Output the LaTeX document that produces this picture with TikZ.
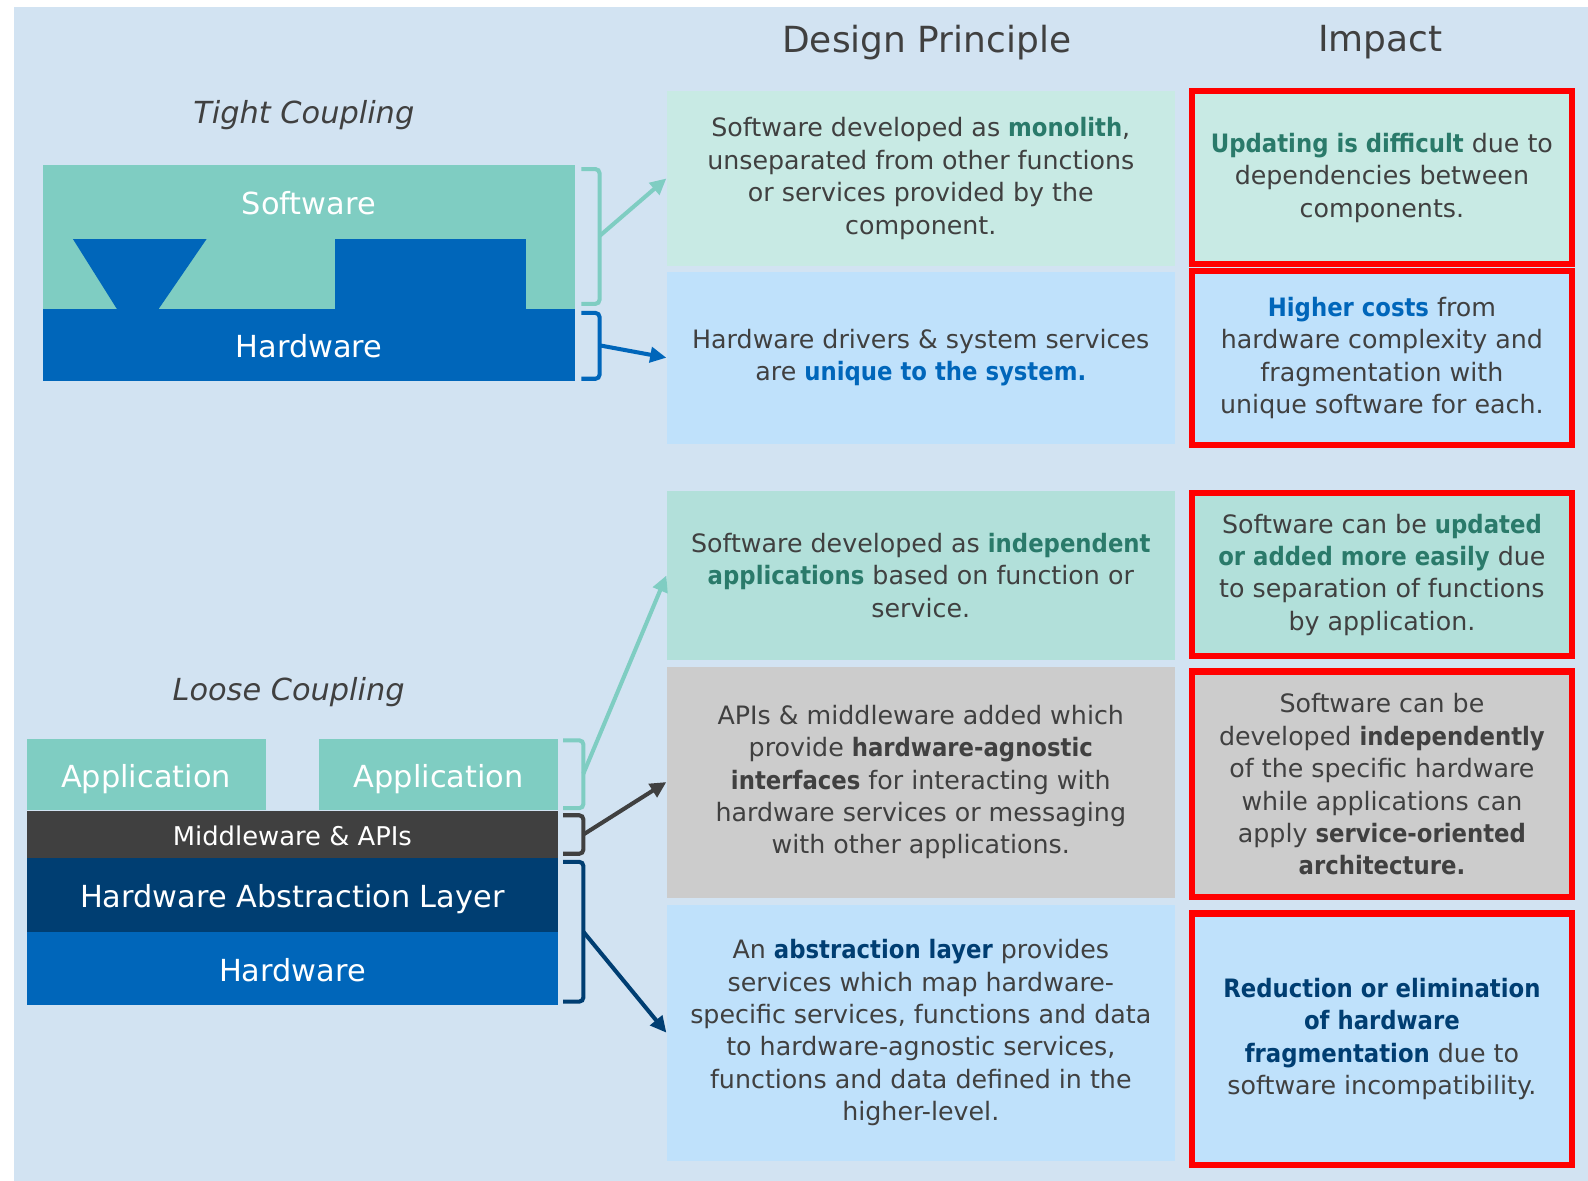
\documentclass[tikz,border=0pt]{standalone}
\usepackage{fontspec}
\setmainfont{DejaVu Sans}[BoldFeatures={FakeStretch=0.9}]
\usetikzlibrary{calc,arrows.meta}

\definecolor{bgblue}{HTML}{D2E3F2}
\definecolor{swteal}{HTML}{7FCDC2}
\definecolor{hwblue}{HTML}{0066BA}
\definecolor{halnavy}{HTML}{003E72}
\definecolor{mwgray}{HTML}{404040}
\definecolor{txtgray}{HTML}{404040}
\definecolor{dpteal}{HTML}{C8EAE4}
\definecolor{dptealb}{HTML}{B2E0DA}
\definecolor{dpblue}{HTML}{BFE1FB}
\definecolor{dpgray}{HTML}{CCCCCC}
\definecolor{hlteal}{HTML}{2A7A6A}
\definecolor{impred}{HTML}{FF0000}

\newcommand{\hlt}[1]{\textbf{\color{hlteal}#1}}
\newcommand{\hlb}[1]{\textbf{\color{hwblue}#1}}
\newcommand{\hln}[1]{\textbf{\color{halnavy}#1}}

\tikzset{
  stack/.style={fill=#1, text=white, inner sep=0pt, anchor=north west,
    text height=26pt, text depth=1pt, font=\fontsize{30}{36}\selectfont},
  dpbox/.style={fill=#1, text=txtgray, align=center, inner sep=0pt,
    anchor=north west, minimum width=502pt, font=\fontsize{25}{32}\selectfont},
  impbox/.style={dpbox={#1}, draw=impred, line width=6pt, minimum width=375pt},
  headtxt/.style={text=txtgray, font=\fontsize{35.5}{42}\selectfont},
  cpltxt/.style={text=txtgray, font=\fontsize{30}{36}\selectfont\itshape},
  brk/.style={draw=#1, line width=4pt, rounded corners=4pt},
  link/.style={draw=#1, line width=4pt, -{Triangle[length=16pt,width=15pt]}},
}

\begin{document}
\begin{tikzpicture}[x=1pt, y=-1pt]
  \useasboundingbox (0,0) rectangle (1568,1166);
  \fill[bgblue] (14,7) rectangle (1568,1166);

  % column heads
  \node[headtxt] (dphead) at (915,42) {Design Principle};
  \node[headtxt] (imphead) at (1363,42) {Impact};

  % tight coupling
  \node[cpltxt] (tight) at (300,114) {Tight Coupling};
  \node[stack=swteal, minimum width=526pt, minimum height=142pt] (sw) at (42,163) {};
  \node[text=white, font=\fontsize{30}{36}\selectfont] (swtxt) at (305,201) {Software};
  \fill[hwblue] (72,236) -- (204,236) -- (156,306) -- (116,306) -- cycle;
  \fill[hwblue] (331,236) rectangle (519,306);
  \node[stack=hwblue, minimum width=526pt, minimum height=71pt] (hw) at (42,305) {Hardware};

  % loose coupling
  \node[cpltxt] (loose) at (285,683) {Loose Coupling};
  \node[stack=swteal, minimum width=236pt, minimum height=71pt] (appa) at (26,729) {Application};
  \node[stack=swteal, minimum width=236pt, minimum height=71pt] (appb) at (315,729) {Application};
  \node[stack=mwgray, minimum width=525pt, minimum height=46pt, text height=22pt,
    text depth=1pt, font=\fontsize{25.5}{30}\selectfont] (mw) at (26,801) {Middleware \& APIs};
  \node[stack=halnavy, minimum width=525pt, minimum height=73pt] (hal) at (26,847) {Hardware Abstraction Layer};
  \node[stack=hwblue, minimum width=525pt, minimum height=72pt] (lhw) at (26,920) {Hardware};

  % design principle
  \node[dpbox=dpteal, minimum height=172pt] (dpa) at (658,90)
    {Software developed as \hlt{monolith},\\ unseparated from other functions\\
     or services provided by the\\ component.};
  \node[dpbox=dpblue, minimum height=170pt] (dpb) at (658,268)
    {Hardware drivers \& system services\\ are \hlb{unique to the system.}};
  \node[dpbox=dptealb, minimum height=166pt] (dpc) at (658,485)
    {Software developed as \hlt{independent}\\ \hlt{applications} based on function or\\ service.};
  \node[dpbox=dpgray, minimum height=228pt] (dpd) at (658,658)
    {APIs \& middleware added which\\ provide \textbf{hardware-agnostic}\\
     \textbf{interfaces} for interacting with\\ hardware services or messaging\\
     with other applications.};
  \node[dpbox=dpblue, minimum height=253pt] (dpe) at (658,893)
    {An \hln{abstraction layer} provides\\ services which map hardware-\\
     specific services, functions and data\\ to hardware-agnostic services,\\
     functions and data defined in the\\ higher-level.};

  % impact
  \node[impbox=dpteal, minimum height=171pt] (ima) at (1174,87)
    {\hlt{Updating is difficult} due to\\ dependencies between\\ components.};
  \node[impbox=dpblue, minimum height=171pt] (imb) at (1174,265)
    {\hlb{Higher costs} from\\ hardware complexity and\\ fragmentation with\\
     unique software for each.};
  \node[impbox=dptealb, minimum height=161pt] (imc) at (1174,484)
    {Software can be \hlt{updated}\\ \hlt{or added more easily} due\\
     to separation of functions\\ by application.};
  \node[impbox=dpgray, minimum height=223pt] (imd) at (1174,660)
    {Software can be\\ developed \textbf{independently}\\ of the specific hardware\\
     while applications can\\ apply \textbf{service-oriented}\\ \textbf{architecture.}};
  \node[impbox=dpblue, minimum height=248pt] (ime) at (1174,899)
    {\hln{Reduction or elimination}\\ \hln{of hardware}\\ \hln{fragmentation} due to\\
     software incompatibility.};

  % brackets and arrows
  \draw[brk=swteal] (574,167) -| (592,233) coordinate (swbrk) |- (574,300);
  \draw[brk=hwblue] (574,309) -| (592,341) coordinate (hwbrk) |- (574,374);
  \draw[brk=swteal] (556,731) -| (576,764) coordinate (appbrk) |- (556,798);
  \draw[brk=mwgray] (556,805) -| (576,824) coordinate (mwbrk) |- (556,843);
  \draw[brk=halnavy] (556,851) -| (576,920) coordinate (halbrk) |- (556,989);

  \draw[link=swteal] (swbrk) -- (dpa.west);
  \draw[link=hwblue] (hwbrk) -- (dpb.west);
  \draw[link=swteal] (appbrk) -- (dpc.west);
  \draw[link=mwgray] (mwbrk) -- (dpd.west);
  \draw[link=halnavy] (halbrk) -- (dpe.west);
\end{tikzpicture}
\end{document}
